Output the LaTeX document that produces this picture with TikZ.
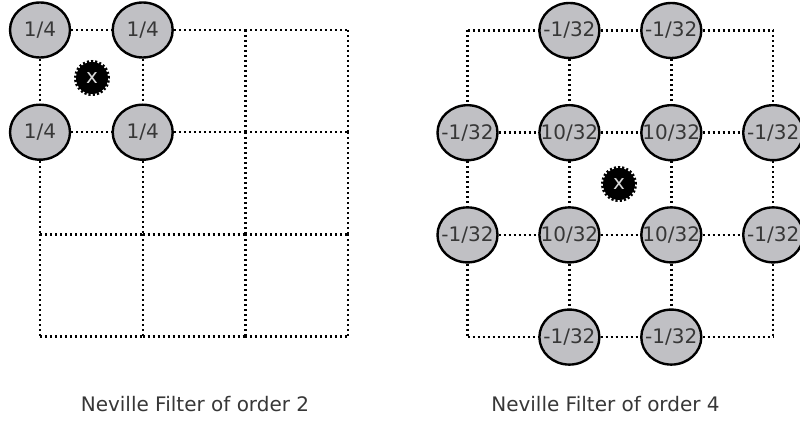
\documentclass[tikz,border=0pt]{standalone}
\usepackage{fontspec}
\setmainfont{DejaVu Sans}
\usepackage{tikz}
\usetikzlibrary{shapes.geometric}
\definecolor{nodegray}{RGB}{192,192,196}
\definecolor{txtgray}{RGB}{55,55,55}
\tikzset{
  gridline/.style={line width=1.2pt, dash pattern=on 1pt off 1.5pt},
  weight/.style={ellipse, draw, line width=1.2pt, fill=nodegray, minimum width=30pt,
    minimum height=27.5pt, inner xsep=-7pt, inner ysep=-4pt, text=txtgray},
  target/.style={circle, fill=black, draw=black, line width=2pt,
    dash pattern=on 1pt off 1pt, minimum size=16pt, inner sep=0pt, text=white!85!black},
  caption/.style={text=txtgray, anchor=base}
}

\begin{document}
\begin{tikzpicture}[x=0.5pt,y=-0.5pt]
\useasboundingbox (0,0) rectangle (800,421);

% grid points of both filters
\foreach \i in {0,...,3}
  \foreach \j in {0,...,3} {
    \coordinate (L-\i-\j) at ({40+102.7*\i},{30+102.2*\j});
    \coordinate (R-\i-\j) at ({467.5+101.9*\i},{30.5+102.2*\j});
  }

% order 2
\path (L-0-0) node[weight] (L-0-0) {1/4}
      (L-1-0) node[weight] (L-1-0) {1/4}
      (L-0-1) node[weight] (L-0-1) {1/4}
      (L-1-1) node[weight] (L-1-1) {1/4};

% order 4
\path (R-1-0) node[weight] (R-1-0) {-1/32}
      (R-2-0) node[weight] (R-2-0) {-1/32}
      (R-0-1) node[weight] (R-0-1) {-1/32}
      (R-1-1) node[weight] (R-1-1) {10/32}
      (R-2-1) node[weight] (R-2-1) {10/32}
      (R-3-1) node[weight] (R-3-1) {-1/32}
      (R-0-2) node[weight] (R-0-2) {-1/32}
      (R-1-2) node[weight] (R-1-2) {10/32}
      (R-2-2) node[weight] (R-2-2) {10/32}
      (R-3-2) node[weight] (R-3-2) {-1/32}
      (R-1-3) node[weight] (R-1-3) {-1/32}
      (R-2-3) node[weight] (R-2-3) {-1/32};

% dotted grid lines
\foreach \g in {L,R}
  \foreach \a in {0,...,3}
    \foreach \b/\c in {0/1,1/2,2/3} {
      \draw[gridline] (\g-\b-\a) -- (\g-\c-\a);
      \draw[gridline] (\g-\a-\b) -- (\g-\a-\c);
    }

\node[target] (xL) at (92,78) {x};
\node[target] (xR) at (619,184) {x};

\node[caption] (capL) at (195,412) {Neville Filter of order 2};
\node[caption] (capR) at (605.5,412) {Neville Filter of order 4};

\end{tikzpicture}
\end{document}
